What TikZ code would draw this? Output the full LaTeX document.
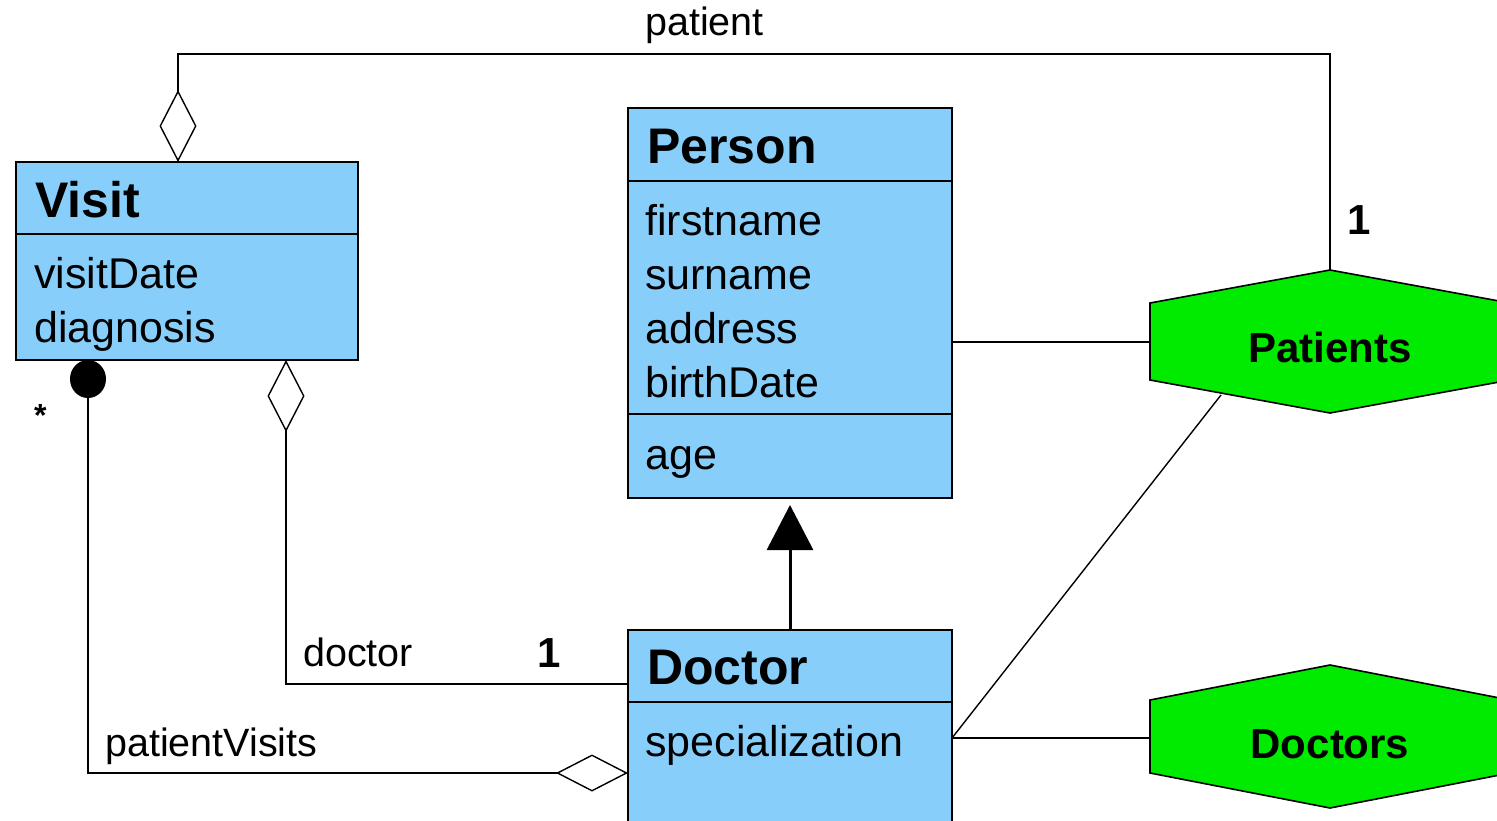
\documentclass[tikz,border=0pt]{standalone}
\usepackage{fontspec}
\setmainfont{Liberation Sans}
\usetikzlibrary{arrows.meta}
\definecolor{classblue}{RGB}{135,206,250}
\definecolor{setgreen}{RGB}{0,235,0}
\tikzset{aggr/.tip={Diamond[open, length=72pt, width=37pt]}}
\begin{document}
\begin{tikzpicture}[x=1pt,y=-1pt,
  cls/.style={draw=black, line width=2pt, fill=classblue, inner sep=0pt, outer sep=0pt, anchor=north west},
  divider/.style={line width=1.6pt},
  title/.style={anchor=base west, inner sep=0pt, font=\bfseries\fontsize{50}{60}\selectfont},
  attr/.style={anchor=base west, inner sep=0pt, font=\fontsize{43}{52}\selectfont},
  lbl/.style={anchor=base west, inner sep=0pt, font=\fontsize{39.5}{48}\selectfont},
  mult/.style={anchor=base west, inner sep=0pt, font=\bfseries\fontsize{42}{50}\selectfont},
  setname/.style={anchor=base, inner sep=0pt, font=\bfseries\fontsize{42}{50}\selectfont},
  conn/.style={line width=1.4pt},
  hexset/.style={draw=black, line width=1.6pt, fill=setgreen},
]
\useasboundingbox (0,0) rectangle (1497,820);
\clip (0,0) rectangle (1497,820);

% ---- classes ----
\node[cls, minimum width=342pt, minimum height=198pt] (visit) at (16,162) {};
\draw[divider] (16,234) -- (358,234);
\node[title] (visitT) at (35,217) {Visit};
\node[attr] (visitA1) at (34,288) {visitDate};
\node[attr] (visitA2) at (34,342) {diagnosis};

\node[cls, minimum width=324pt, minimum height=390pt] (person) at (628,108) {};
\draw[divider] (628,181) -- (952,181);
\draw[divider] (628,414) -- (952,414);
\node[title] (personT) at (647,163) {Person};
\node[attr] (personA1) at (645,235) {firstname};
\node[attr] (personA2) at (645,289) {surname};
\node[attr] (personA3) at (645,343) {address};
\node[attr] (personA4) at (645,397) {birthDate};
\node[attr] (personM1) at (645,469) {age};

\node[cls, minimum width=324pt, minimum height=220pt] (doctor) at (628,630) {};
\draw[divider] (628,702) -- (952,702);
\node[title] (doctorT) at (647,684) {Doctor};
\node[attr] (doctorA1) at (645,756) {specialization};

% ---- sets ----
\draw[hexset] (1150,303) -- (1330,270) -- (1510,303) -- (1510,380) -- (1330,413) -- (1150,380) -- cycle;
\node[setname] (patients) at (1330,362) {Patients};
\draw[hexset] (1150,700) -- (1330,665) -- (1510,700) -- (1510,773) -- (1330,808) -- (1150,773) -- cycle;
\node[setname] (doctors) at (1330,758) {Doctors};

\coordinate (patientsN) at (1330,270);
\coordinate (patientsW) at (1150,342);
\coordinate (patientsSW) at (1221,395);
\coordinate (doctorsW) at (1150,738);

\coordinate (visitTop) at (178,162);
\coordinate (visitBotL) at (88,360);
\coordinate (visitBotR) at (286,360);
\coordinate (doctorWtop) at (628,684);
\coordinate (doctorWbot) at (628,773);
\coordinate (doctorE) at (952,738);
\coordinate (personE) at (952,342);

% ---- connectors ----
\draw[conn, {aggr}-] (visitTop) -- (178,54) -| (patientsN);
\draw[conn] (personE) -- (patientsW);
\draw[conn] (doctorE) -- (doctorsW);
\draw[conn] (doctorE) -- (patientsSW);
\draw[conn, {aggr}-] (visitBotR) |- (doctorWtop);
\draw[conn, {Circle[length=38pt, width=36pt]}-{aggr}] (visitBotL) |- (doctorWbot);
\draw[line width=3pt, -{Triangle[length=45pt, width=46pt]}, shorten >=7pt] (doctor.north) -- (person.south);

% ---- labels ----
\node[lbl] (lpatient) at (645,35) {patient};
\node[mult] (mpatient) at (1347,234) {1};
\node[lbl] (ldoctor) at (303,666) {doctor};
\node[mult] (mdoctor) at (537,667) {1};
\node[lbl] (lvisits) at (105,756) {patientVisits};
\node[anchor=base west, inner sep=0pt, font=\bfseries\fontsize{32}{36}\selectfont] (mvisits) at (34,426) {*};
\end{tikzpicture}
\end{document}
